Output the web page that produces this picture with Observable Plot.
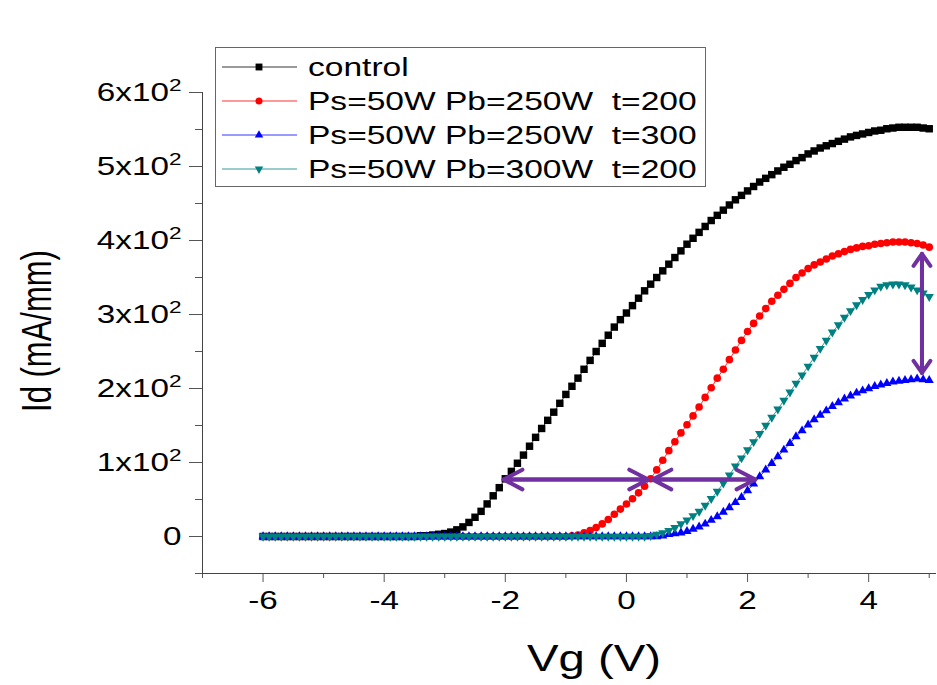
<!DOCTYPE html>
<html>
<head>
<meta charset="utf-8">
<script src="https://cdn.jsdelivr.net/npm/d3@7"></script>
<script src="https://cdn.jsdelivr.net/npm/@observablehq/plot@0.6"></script>
<style>
  html, body { margin: 0; padding: 0; background: #fff; }
  #chart { width: 937px; height: 685px; }
</style>
</head>
<body>
<div id="chart"></div>
<script>
// ---------------- DATA ----------------
const vg = [-6,-5.9,-5.8,-5.7,-5.6,-5.5,-5.4,-5.3,-5.2,-5.1,-5,-4.9,-4.8,-4.7,-4.6,-4.5,-4.4,-4.3,-4.2,-4.1,-4,-3.9,-3.8,-3.7,-3.6,-3.5,-3.4,-3.3,-3.2,-3.1,-3,-2.9,-2.8,-2.7,-2.6,-2.5,-2.4,-2.3,-2.2,-2.1,-2,-1.9,-1.8,-1.7,-1.6,-1.5,-1.4,-1.3,-1.2,-1.1,-1,-0.9,-0.8,-0.7,-0.6,-0.5,-0.4,-0.3,-0.2,-0.1,0,0.1,0.2,0.3,0.4,0.5,0.6,0.7,0.8,0.9,1,1.1,1.2,1.3,1.4,1.5,1.6,1.7,1.8,1.9,2,2.1,2.2,2.3,2.4,2.5,2.6,2.7,2.8,2.9,3,3.1,3.2,3.3,3.4,3.5,3.6,3.7,3.8,3.9,4,4.1,4.2,4.3,4.4,4.5,4.6,4.7,4.8,4.9,5];

const idControl = [0,0,0,0,0,0,0,0,0,0,0,0,0,0,0,0,0,0,0,0,0,0,0,0,0,0,
  1,1,2,3,4,6,9,13,19,26,34,44,55,66,78,88,99,110,122,134,146,157,168,180,192,203,214,226,238,250,261,272,283,293,302,312,322,332,341,350,359,368,377,386,395,403,411,419,427,434,441,448,455,461,467,473,479,484,489,494,499,503,508,512,517,521,525,528,531,534,537,540,542,544,546,548,549,551,552,553,553,553,553,552,551];

const idPb250t200 = [0,0,0,0,0,0,0,0,0,0,0,0,0,0,0,0,0,0,0,0,0,0,0,0,0,0,0,0,0,0,0,0,0,0,0,0,0,0,0,0,0,0,0,0,0,0,0,0,0,0,0,
  1,2,5,8,12,17,23,30,37,44,51,59,68,78,90,103,116,128,140,151,163,175,188,201,214,226,239,252,265,277,288,298,308,318,326,334,342,350,356,362,367,371,375,379,382,385,388,390,392,393,395,396,397,398,398,398,397,396,394,391];

const idPb250t300 = [0,0,0,0,0,0,0,0,0,0,0,0,0,0,0,0,0,0,0,0,0,0,0,0,0,0,0,0,0,0,0,0,0,0,0,0,0,0,0,0,0,0,0,0,0,0,0,0,0,0,0,0,0,0,0,0,0,0,0,0,0,0,0,0,0,0,
  1,3,4,5,7,10,13,17,22,27,33,39,46,53,62,71,81,90,99,108,117,126,135,143,151,158,164,170,176,181,186,190,194,197,200,203,205,207,209,210,211,212,213,212,211];

const idPb300t200 = [0,0,0,0,0,0,0,0,0,0,0,0,0,0,0,0,0,0,0,0,0,0,0,0,0,0,0,0,0,0,0,0,0,0,0,0,0,0,0,0,0,0,0,0,0,0,0,0,0,0,0,0,0,0,0,0,0,0,0,0,0,0,0,0,
  1,3,5,8,12,17,22,28,34,42,51,61,72,83,95,106,117,128,139,150,161,172,184,195,207,218,230,242,254,265,276,286,296,305,313,320,327,333,338,340,341,341,340,337,333,329,324];

const seriesNames = ["control", "Ps=50W Pb=250W  t=200", "Ps=50W Pb=250W  t=300", "Ps=50W Pb=300W  t=200"];
const seriesValues = [idControl, idPb250t200, idPb250t300, idPb300t200];
const seriesColors = ["#000000", "#ff0000", "#0000ff", "#008080"];

const xMajorTicks = [-6, -4, -2, 0, 2, 4];
const xMinorTicks = [-7, -5, -3, -1, 1, 3, 5];
const yMajorTicks = [0, 100, 200, 300, 400, 500, 600];
const yTickLabels = ["0", "1x10²", "2x10²", "3x10²", "4x10²", "5x10²", "6x10²"];
const yMinorTicks = [-50, 50, 150, 250, 350, 450, 550];

// double-headed arrows (data units)
const arrowX1 = [-2.03, 0.43, 4.88];
const arrowX2 = [0.36, 2.13, 4.88];
const arrowY1 = [77, 77, 382];
const arrowY2 = [77, 77, 221];

// ---------------- SYMBOLS ----------------
const sqrt3 = Math.sqrt(3);
const symbolTriangleDown = {
  draw(context, size) {
    const y = -Math.sqrt(size / (sqrt3 * 3));
    context.moveTo(0, -y * 2);
    context.lineTo(-sqrt3 * y, y);
    context.lineTo(sqrt3 * y, y);
    context.closePath();
  }
};
const seriesSymbols = [d3.symbolSquare, d3.symbolCircle, d3.symbolTriangle, symbolTriangleDown];
const seriesR = [4.2, 3.8, 3.4, 3.4];

// ---------------- TABLES ----------------
const tables = seriesValues.map((vals, s) => vals.map((v, i) => ({vg: vg[i], id: v, series: seriesNames[s]})));
const arrows = arrowX1.map((x1, i) => ({x1, x2: arrowX2[i], y1: arrowY1[i], y2: arrowY2[i]}));
const hArrows = arrows.filter(a => a.y1 === a.y2);
const vArrows = arrows.filter(a => a.y1 !== a.y2);

const yLabelOf = new Map(yMajorTicks.map((v, i) => [v, yTickLabels[i]]));
const font = "'Liberation Sans', Arial, sans-serif";
const arrowColor = "#7030a0";

const seriesMarks = tables.flatMap((t, s) => [
  Plot.line(t, {x: "vg", y: "id", stroke: seriesColors[s], strokeWidth: 1, strokeOpacity: 0.8}),
  Plot.dot(t, {x: "vg", y: "id", symbol: seriesSymbols[s], r: seriesR[s], fill: seriesColors[s], stroke: "none"})
]);

const arrowMarks = (data, opts) => [
  Plot.arrow(data, {x1: "x1", y1: "y1", x2: "x2", y2: "y2", stroke: arrowColor, strokeWidth: 4, ...opts}),
  Plot.arrow(data, {x1: "x2", y1: "y2", x2: "x1", y2: "y1", stroke: arrowColor, strokeWidth: 4, ...opts})
];

const chart = Plot.plot({
  width: 937,
  height: 685,
  marginLeft: 202,
  marginRight: 1,
  marginTop: 92,
  marginBottom: 112,
  style: {fontFamily: font, background: "#fff", color: "#000"},
  x: {domain: [-7, 5.12]},
  y: {domain: [-50, 600]},
  marks: [
    Plot.axisY(yMinorTicks, {tickSize: 7, text: null, label: null, stroke: "#555"}),
    Plot.axisY(yMajorTicks, {tickSize: 13, tickPadding: 8, fontSize: 25, label: null, stroke: "#555", fill: "#000",
      tickFormat: d => yLabelOf.get(d)}),
    Plot.axisX(xMinorTicks, {tickSize: 5, text: null, label: null, stroke: "#555"}),
    Plot.axisX(xMajorTicks, {tickSize: 9, tickPadding: 9, fontSize: 25, label: null, stroke: "#555", fill: "#000",
      tickFormat: d => String(d)}),
    Plot.ruleX([-7], {stroke: "#444", strokeWidth: 1}),
    Plot.ruleY([-50], {stroke: "#444", strokeWidth: 1}),
    ...seriesMarks,
    ...arrowMarks(hArrows, {headLength: 8, headAngle: 55}),
    ...arrowMarks(vArrows, {headLength: 5.5, headAngle: 70})
  ]
});

document.getElementById("chart").appendChild(chart);
const svg = d3.select(chart);

// ---------------- superscript exponents in y tick labels ----------------
svg.selectAll('g[aria-label="y-axis tick label"] text').each(function () {
  const s = this.textContent;
  if (s.includes("²")) {
    this.textContent = s.replace("²", "");
    d3.select(this).append("tspan").attr("dy", "-0.58em").attr("font-size", "0.68em").text("2");
  }
});

// ---------------- horizontal text stretch (reference is widened) ----------------
function hstretch(nodes, k) {
  nodes.each(function () {
    const t = this.getAttribute("transform") || "";
    const ax = this.getAttribute("x"), ay = this.getAttribute("y");
    const nx = ax !== null && !isNaN(+ax) ? +ax : 0;
    const ny = ay !== null && !isNaN(+ay) ? +ay : 0;
    if (ax !== null && !isNaN(+ax)) this.removeAttribute("x");
    if (ay !== null && !isNaN(+ay)) this.removeAttribute("y");
    this.setAttribute("transform", `${t} translate(${nx},${ny}) scale(${k},1)`);
  });
}
hstretch(svg.selectAll('g[aria-label="y-axis tick label"] text'), 1.33);
hstretch(svg.selectAll('g[aria-label="x-axis tick label"] text'), 1.33);

// ---------------- axis titles ----------------
const xt = svg.append("text")
  .attr("x", 594).attr("y", 671)
  .attr("text-anchor", "middle")
  .attr("font-family", font).attr("font-size", 37).attr("fill", "#000")
  .text("Vg (V)");
hstretch(xt, 1.28);

svg.append("text")
  .attr("transform", "translate(35,331) scale(1.4,1) rotate(-90)")
  .attr("text-anchor", "middle").attr("dy", "0.36em")
  .attr("font-family", font).attr("font-size", 31).attr("fill", "#000")
  .text("Id (mA/mm)");

// ---------------- legend ----------------
const lg = svg.append("g").attr("aria-label", "legend");
lg.append("rect")
  .attr("x", 215.5).attr("y", 47.5).attr("width", 490).attr("height", 139)
  .attr("fill", "#fff").attr("stroke", "#666").attr("stroke-width", 1);
const rowY = [67, 101, 135, 169];
seriesNames.forEach((name, s) => {
  const y = rowY[s];
  lg.append("line").attr("x1", 222).attr("x2", 297).attr("y1", y).attr("y2", y)
    .attr("stroke", seriesColors[s]).attr("stroke-width", 1).attr("stroke-opacity", 0.8);
  lg.append("path")
    .attr("transform", `translate(259,${y})`)
    .attr("d", d3.symbol().type(seriesSymbols[s]).size(Math.PI * seriesR[s] * seriesR[s] * 0.85)())
    .attr("fill", seriesColors[s]);
  const t = lg.append("text")
    .attr("x", 308).attr("y", y).attr("dy", "0.36em")
    .attr("text-anchor", "start")
    .attr("font-family", font).attr("font-size", 26).attr("fill", "#000")
    .style("white-space", "pre")
    .text(name);
  hstretch(t, 1.29);
});
</script>
</body>
</html>
